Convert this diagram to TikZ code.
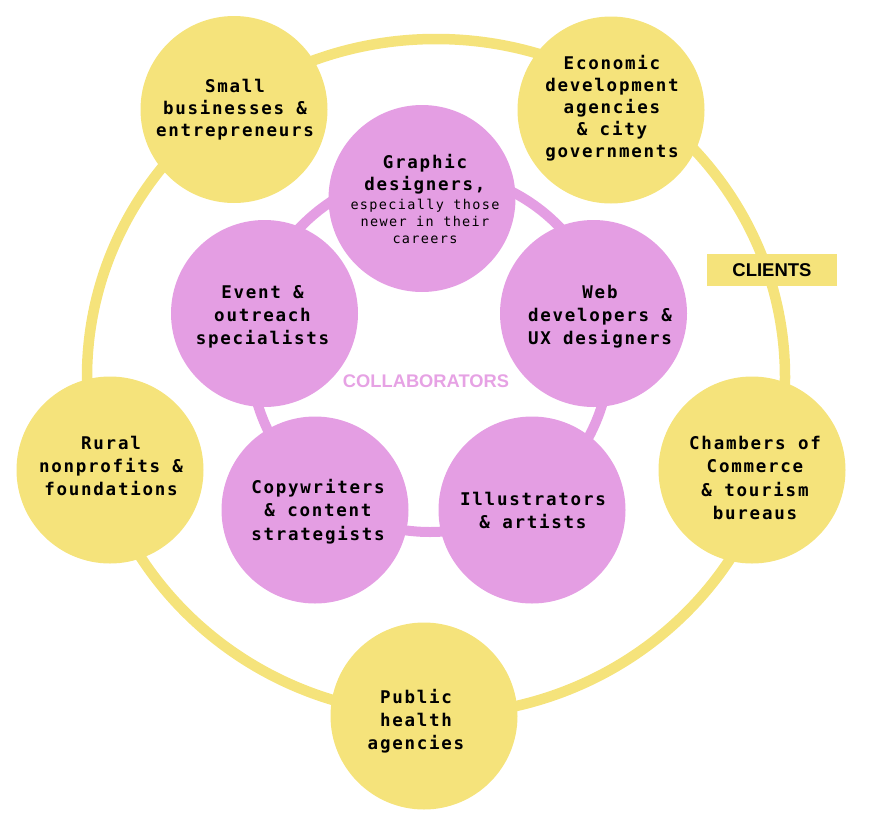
\documentclass[tikz,border=0pt]{standalone}
\usepackage{fontspec}
\newfontfamily\circfont[LetterSpace=10]{DejaVu Sans Mono}
\newfontfamily\labelfont{Liberation Sans}
\definecolor{cyellow}{HTML}{F5E37B}
\definecolor{cpink}{HTML}{E49EE3}
\definecolor{ctext}{HTML}{E6A2E4}
\newcommand\smalltxt{\mdseries\fontsize{13.5}{17}\selectfont}
\tikzset{
  circbase/.style={circle, minimum size=187pt, inner sep=0pt},
  clientnode/.style={circbase, fill=cyellow},
  collabnode/.style={circbase, fill=cpink},
  circtext/.style={inner sep=0pt, align=center,
    font=\circfont\bfseries\fontsize{17.5}{23.3}\selectfont},
  circtextt/.style={inner sep=0pt, align=center,
    font=\circfont\bfseries\fontsize{17.5}{22}\selectfont},
  clientring/.style={draw=cyellow, line width=10.5pt},
  collabring/.style={draw=cpink, line width=10pt},
  tagbox/.style={fill=cyellow, minimum width=130pt, minimum height=32pt, inner sep=0pt,
    font=\labelfont\bfseries\fontsize{18.5}{20}\selectfont},
  tagtext/.style={text=ctext, inner sep=0pt, font=\labelfont\bfseries\fontsize{18.3}{20}\selectfont}
}
\begin{document}
\begin{tikzpicture}[x=1pt,y=-1pt]
\useasboundingbox (0,0) rectangle (878,822);
% clients ring
\coordinate (cc) at (436,377);
\draw[clientring] (cc) ellipse [x radius=349, y radius=338];
% client circles
\node[clientnode] (sb) at (234,109.5) {};
\node[clientnode] (econ) at (611,110) {};
\node[clientnode] (rural) at (110,470) {};
\node[clientnode] (cham) at (752,470) {};
\node[clientnode] (pub) at (424,716) {};
\node[circtextt] (sbt) at (235,109.5) {Small\\businesses \&\\entrepreneurs};
\node[circtextt] (econt) at (612,108) {Economic\\development\\agencies\\\& city\\governments};
\node[circtext] (ruralt) at (111,466) {Rural\\nonprofits \&\\foundations};
\node[circtext] (chamt) at (755,478) {Chambers of\\Commerce\\\& tourism\\bureaus};
\node[circtext] (pubt) at (416,721) {Public\\health\\agencies};
\node[tagbox] (clients) at (772,270) {CLIENTS};
% collaborators ring
\coordinate (pc) at (430,352);
\draw[collabring] (pc) circle [radius=180];
\node[collabnode] (gd) at (422,198.5) {};
\node[collabnode] (ev) at (264.5,313.5) {};
\node[collabnode] (web) at (593.5,313.5) {};
\node[collabnode] (copy) at (315,510) {};
\node[collabnode] (ill) at (532,510) {};
\node[circtextt] (gdt) at (425,199) {Graphic\\designers,\\[-3pt]{\smalltxt especially those}\\[-5pt]{\smalltxt newer in their}\\[-5pt]{\smalltxt careers}};
\node[circtext] (evt) at (262.5,317) {Event \&\\outreach\\specialists};
\node[circtext] (webt) at (600,316.5) {Web\\developers \&\\UX designers};
\node[circtext] (copyt) at (318,511.5) {Copywriters\\\& content\\strategists};
\node[circtext] (illt) at (533,510.5) {Illustrators\\\& artists};
\node[tagtext] (collab) at (426,381) {COLLABORATORS};
\end{tikzpicture}
\end{document}
